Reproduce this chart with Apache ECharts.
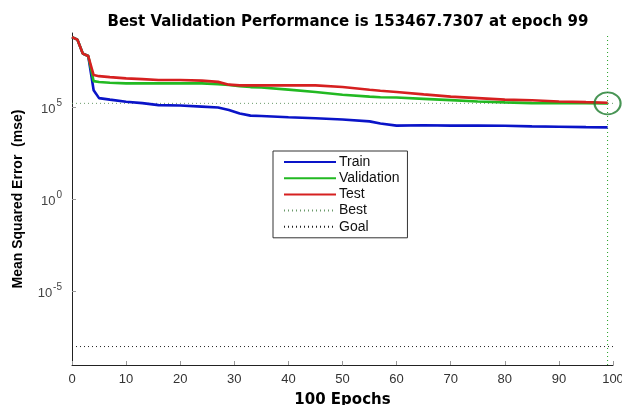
<!DOCTYPE html>
<html>
<head>
<meta charset="utf-8">
<script src="https://cdn.jsdelivr.net/npm/echarts@6/dist/echarts.min.js"></script>
<style>html,body{margin:0;padding:0;background:#fff;}#c{width:622px;height:405px;}</style>
</head>
<body>
<div id="c"></div>
<script>
const epochs = [0,1,2,3,4,5,7,10,13,16,20,24,27,29,31,33,35,40,45,50,55,57,60,65,70,75,80,85,90,95,99];
const trainMSE = [6.03e8,4.37e8,7.59e7,5.62e7,7.94e5,2.95e5,2.45e5,1.86e5,1.58e5,1.23e5,1.17e5,1.02e5,9.1e4,6.6e4,4.27e4,3.31e4,3.16e4,2.69e4,2.40e4,2.04e4,1.62e4,1.23e4,9.5e3,1.0e4,9.5e3,9.5e3,9.3e3,8.7e3,8.3e3,7.9e3,7.6e3];
const validationMSE = [6.03e8,4.37e8,7.59e7,5.62e7,2.45e6,2.19e6,2.0e6,1.86e6,1.86e6,1.86e6,1.86e6,1.86e6,1.70e6,1.51e6,1.32e6,1.17e6,1.12e6,8.5e5,6.3e5,4.47e5,3.55e5,3.3e5,3.16e5,2.69e5,2.29e5,1.95e5,1.74e5,1.58e5,1.55e5,1.54e5,153467.7307];
const testMSE = [6.03e8,4.37e8,7.59e7,5.62e7,5.25e6,4.57e6,4.07e6,3.47e6,3.16e6,2.82e6,2.82e6,2.63e6,2.24e6,1.58e6,1.45e6,1.45e6,1.45e6,1.45e6,1.45e6,1.17e6,8.3e5,7.4e5,6.3e5,4.68e5,3.55e5,2.95e5,2.45e5,2.24e5,1.95e5,1.78e5,1.66e5];
const bestEpoch = 99;
const bestPerf = 153467.7307;
const goal = 1e-8;
const xTicks = [0,10,20,30,40,50,60,70,80,90,100];
const yTickValues = [1e-5, 1, 1e5];
const titleText = 'Best Validation Performance is 153467.7307 at epoch 99';

const FONT = '"Liberation Sans", Arial, sans-serif';
const WIDE = '"DejaVu Sans", "Liberation Sans", sans-serif';
const pair = arr => epochs.map((e, i) => [e, arr[i]]);

const chart = echarts.init(document.getElementById('c'), null, {renderer: 'canvas'});
chart.setOption({
  animation: false,
  backgroundColor: '#ffffff',
  title: {
    text: titleText, left: 343, top: 10, textAlign: 'center',
    textStyle: {fontFamily: WIDE, fontSize: 15, fontWeight: 'bold', color: '#000'}
  },
  grid: {left: 72, right: 9, top: 33, bottom: 40, containLabel: false, outerBoundsMode: 'none'},
  legend: {
    data: ['Train', 'Validation', 'Test', 'Best', 'Goal'],
    orient: 'vertical', left: 273, top: 151,
    padding: [4, 8, 4, 10], itemWidth: 52, itemHeight: 14, itemGap: 2.2,
    backgroundColor: '#fff', borderColor: '#333', borderWidth: 1, borderRadius: 0,
    itemStyle: {opacity: 0},
    textStyle: {fontFamily: FONT, fontSize: 14, color: '#111', padding: [0,0,0,-2]}
  },
  xAxis: {
    type: 'value', min: 0, max: 100, interval: 10,
    name: '100 Epochs', nameLocation: 'middle', nameGap: 28,
    nameTextStyle: {fontFamily: WIDE, fontSize: 15, fontWeight: 'bold', color: '#000'},
    axisLine: {show: true, onZero: false, lineStyle: {color: '#222', width: 1}},
    axisTick: {show: true, inside: true, length: 4, lineStyle: {color: '#999'}},
    axisLabel: {fontFamily: FONT, fontSize: 13, color: '#333', margin: 8},
    splitLine: {show: false}
  },
  yAxis: {
    type: 'log', logBase: 10, min: 1e-9, max: 1e9,
    name: 'Mean Squared Error  (mse)', nameLocation: 'middle', nameGap: 47,
    nameTextStyle: {fontFamily: FONT, fontSize: 14, fontWeight: 'bold', color: '#000'},
    axisLine: {show: true, lineStyle: {color: '#222', width: 1}},
    axisTick: {show: true, inside: true, length: 4, customValues: yTickValues, lineStyle: {color: '#999'}},
    axisLabel: {
      customValues: yTickValues, margin: 10,
      formatter: v => '{b|10}{s|' + Math.round(Math.log10(v)) + '}',
      rich: {
        b: {fontFamily: FONT, fontSize: 13, color: '#444', lineHeight: 18, verticalAlign: 'bottom'},
        s: {fontFamily: FONT, fontSize: 10, color: '#444', lineHeight: 18, verticalAlign: 'top', padding: [0,0,6,1]}
      }
    },
    splitLine: {show: false}
  },
  series: [
    {name: 'Train', type: 'line', data: pair(trainMSE), symbol: 'none', lineStyle: {color: '#0a14c8', width: 2.6}, itemStyle: {color: '#0a14c8'}, z: 3},
    {name: 'Validation', type: 'line', data: pair(validationMSE), symbol: 'none', lineStyle: {color: '#22b922', width: 2.6}, itemStyle: {color: '#22b922'}, z: 3},
    {name: 'Test', type: 'line', data: pair(testMSE), symbol: 'none', lineStyle: {color: '#d62020', width: 2.6}, itemStyle: {color: '#d62020'}, z: 4},
    {name: 'Best', type: 'line', data: [[0, bestPerf], [100, bestPerf]], symbol: 'none', lineStyle: {color: '#6a9a6a', width: 1, type: [1, 3]}, itemStyle: {color: '#777'}, z: 2},
    {name: 'Best', type: 'line', data: [[bestEpoch, 1e-9], [bestEpoch, 1e9]], symbol: 'none', lineStyle: {color: '#22a022', width: 1, type: [1, 3]}, itemStyle: {color: '#777'}, z: 2},
    {name: 'Goal', type: 'line', data: [[0, goal], [100, goal]], symbol: 'none', lineStyle: {color: '#222', width: 1, type: [1, 3]}, itemStyle: {color: '#222'}, z: 2},
    {name: 'BestMarker', type: 'scatter', data: [[bestEpoch, bestPerf]], symbol: 'circle', symbolSize: [26, 22],
     itemStyle: {color: 'rgba(0,0,0,0)', borderColor: '#1a7a2a', borderWidth: 2}, z: 5, silent: true}
  ]
});
</script>
</body>
</html>
